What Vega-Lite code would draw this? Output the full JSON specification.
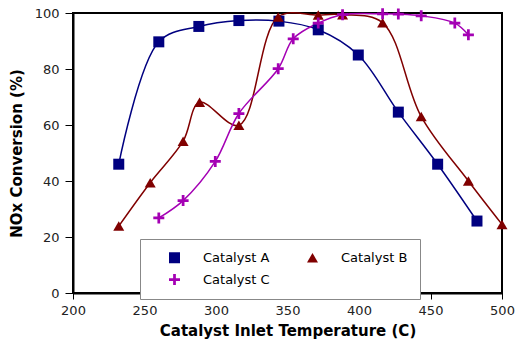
{
  "$schema": "https://vega.github.io/schema/vega-lite/v6.json",
  "width": 429,
  "height": 280,
  "autosize": "none",
  "padding": {"left": 73, "top": 13, "right": 14, "bottom": 52},
  "background": "white",
  "config": {
    "font": "DejaVu Sans",
    "view": {"stroke": "black", "strokeWidth": 2},
    "axis": {"grid": false, "labelFlush": false, "domainColor": "black", "domainWidth": 2, "tickColor": "black", "tickWidth": 1, "labelFont": "DejaVu Sans", "labelFontSize": 13, "labelColor": "#222", "titleFont": "DejaVu Sans", "titleFontSize": 15, "titleFontWeight": "bold", "titleColor": "black"}
  },
  "data": {"values": [
    {"s": "Catalyst A", "t": 232, "v": 46},
    {"s": "Catalyst A", "t": 260, "v": 89.7},
    {"s": "Catalyst A", "t": 288, "v": 95.2},
    {"s": "Catalyst A", "t": 316, "v": 97.3},
    {"s": "Catalyst A", "t": 344, "v": 97.1},
    {"s": "Catalyst A", "t": 371.5, "v": 94},
    {"s": "Catalyst A", "t": 399.5, "v": 85},
    {"s": "Catalyst A", "t": 427.5, "v": 64.6},
    {"s": "Catalyst A", "t": 455, "v": 46},
    {"s": "Catalyst A", "t": 482.5, "v": 25.7},
    {"s": "Catalyst B", "t": 232, "v": 23.9},
    {"s": "Catalyst B", "t": 254, "v": 39.4},
    {"s": "Catalyst B", "t": 277, "v": 54.2},
    {"s": "Catalyst B", "t": 288.5, "v": 68.1},
    {"s": "Catalyst B", "t": 316, "v": 59.9},
    {"s": "Catalyst B", "t": 343.5, "v": 98.6},
    {"s": "Catalyst B", "t": 371.5, "v": 99.3},
    {"s": "Catalyst B", "t": 388.5, "v": 99.4},
    {"s": "Catalyst B", "t": 416.5, "v": 96.5},
    {"s": "Catalyst B", "t": 443.5, "v": 63},
    {"s": "Catalyst B", "t": 476.5, "v": 40},
    {"s": "Catalyst B", "t": 500, "v": 24.5},
    {"s": "Catalyst C", "t": 260, "v": 26.8},
    {"s": "Catalyst C", "t": 277, "v": 33},
    {"s": "Catalyst C", "t": 299.5, "v": 47},
    {"s": "Catalyst C", "t": 316, "v": 64.1},
    {"s": "Catalyst C", "t": 343.5, "v": 80.1},
    {"s": "Catalyst C", "t": 354, "v": 90.8},
    {"s": "Catalyst C", "t": 371.5, "v": 96.4},
    {"s": "Catalyst C", "t": 388.5, "v": 99.4},
    {"s": "Catalyst C", "t": 416.5, "v": 99.7},
    {"s": "Catalyst C", "t": 427.5, "v": 99.6},
    {"s": "Catalyst C", "t": 443.5, "v": 99},
    {"s": "Catalyst C", "t": 467, "v": 96.4},
    {"s": "Catalyst C", "t": 476.5, "v": 92.2}
  ]},
  "encoding": {
    "x": {"field": "t", "type": "quantitative", "scale": {"domain": [200, 500], "nice": false, "zero": false},
      "axis": {"values": [200, 250, 300, 350, 400, 450, 500], "tickSize": 6, "labelPadding": 5, "titlePadding": 6, "title": "Catalyst Inlet Temperature (C)"}},
    "y": {"field": "v", "type": "quantitative", "scale": {"domain": [0, 100], "nice": false},
      "axis": {"values": [0, 20, 40, 60, 80, 100], "tickSize": 8, "labelPadding": 6, "titlePadding": 10, "title": "NOx Conversion (%)"}}
  },
  "layer": [
    {
      "transform": [{"filter": "datum.s === 'Catalyst A'"}],
      "mark": {"type": "line", "interpolate": "catmull-rom", "strokeWidth": 1.5, "color": "#000080"},
      "encoding": {}
    },
    {
      "transform": [{"filter": "datum.s === 'Catalyst B'"}],
      "mark": {"type": "line", "interpolate": "catmull-rom", "strokeWidth": 1.5, "color": "#800000"},
      "encoding": {}
    },
    {
      "transform": [{"filter": "datum.s === 'Catalyst C'"}],
      "mark": {"type": "line", "interpolate": "catmull-rom", "strokeWidth": 1.5, "color": "#A400B4"},
      "encoding": {}
    },
    {
      "mark": {"type": "point", "filled": true, "opacity": 1, "size": 121},
      "encoding": {
        "color": {"field": "s", "type": "nominal", "scale": {"domain": ["Catalyst A", "Catalyst B", "Catalyst C"], "range": ["#000080", "#800000", "#A400B4"]},
          "legend": {"title": null, "orient": "none", "legendX": 67, "legendY": 226, "columns": 2, "direction": "horizontal", "fillColor": "white", "strokeColor": "#888", "padding": 12, "symbolOffset": 16, "labelOffset": 22, "columnPadding": 20, "rowPadding": 8, "labelFont": "DejaVu Sans", "labelFontSize": 13, "labelColor": "black", "symbolSize": 121, "symbolStrokeWidth": 0, "symbolOpacity": 1}},
        "shape": {"field": "s", "type": "nominal", "scale": {"domain": ["Catalyst A", "Catalyst B", "Catalyst C"], "range": ["square", "triangle-up", "M-1,-0.25H1V0.25H-1Z M-0.25,-1H0.25V1H-0.25Z"]}}
      }
    }
  ]
}
